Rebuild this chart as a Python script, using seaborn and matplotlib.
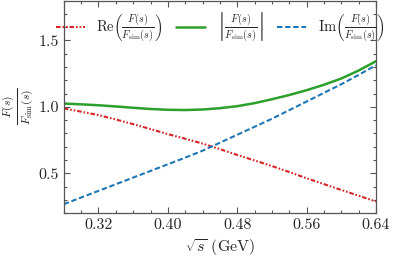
import numpy as np
import pandas as pd
import seaborn as sns
import matplotlib.pyplot as plt

# sqrt(s) in GeV
sqrt_s = [0.28, 0.30, 0.32, 0.34, 0.36, 0.38, 0.40, 0.42, 0.44, 0.46,
          0.48, 0.50, 0.52, 0.54, 0.56, 0.58, 0.60, 0.62, 0.64]
re_ratio = [0.988, 0.964, 0.938, 0.905, 0.870, 0.833, 0.795, 0.760, 0.724, 0.682,
            0.638, 0.597, 0.555, 0.510, 0.463, 0.419, 0.375, 0.332, 0.288]
abs_ratio = [1.025, 1.019, 1.012, 1.003, 0.993, 0.984, 0.978, 0.976, 0.980, 0.990,
             1.005, 1.028, 1.057, 1.089, 1.125, 1.166, 1.213, 1.273, 1.343]
im_ratio = [0.268, 0.318, 0.368, 0.418, 0.468, 0.518, 0.568, 0.618, 0.670, 0.730,
            0.790, 0.850, 0.910, 0.975, 1.040, 1.105, 1.170, 1.240, 1.313]

frac = r"\frac{F(s)}{F_{\mathrm{sim}}(s)}"
labels = [
    r"$\mathrm{Re}\left(" + frac + r"\right)$",
    r"$\left|" + frac + r"\right|$",
    r"$\mathrm{Im}\left(" + frac + r"\right)$",
]

sns.set_theme(style="ticks")
plt.rcParams["font.family"] = "serif"
plt.rcParams["font.serif"] = ["cmr10", "DejaVu Serif"]
plt.rcParams["mathtext.fontset"] = "cm"
plt.rcParams["axes.formatter.use_mathtext"] = True

fig = plt.figure(figsize=(3.94, 2.6), dpi=100)
ax = fig.add_axes([0.162, 0.18, 0.792, 0.818])

df = pd.DataFrame({"x": sqrt_s, "re": re_ratio, "abs": abs_ratio, "im": im_ratio})

sns.lineplot(data=df, x="x", y="re", ax=ax, color="#d62728", linewidth=1.5,
             linestyle=(0, (2.2, 0.9, 0.8, 0.9, 0.8, 0.9)), label=labels[0])
sns.lineplot(data=df, x="x", y="abs", ax=ax, color="#2ca02c", linewidth=1.8,
             label=labels[1])
sns.lineplot(data=df, x="x", y="im", ax=ax, color="#1f77b4", linewidth=1.5,
             linestyle=(0, (2.6, 1.3)), label=labels[2])

ax.set_xlim(0.28, 0.64)
ax.set_ylim(0.2, 1.8)
ax.set_xticks([0.32, 0.40, 0.48, 0.56, 0.64])
ax.set_xticklabels(["0.32", "0.40", "0.48", "0.56", "0.64"])
ax.set_xticks(np.arange(0.28, 0.6401, 0.02), minor=True)
ax.set_yticks([0.5, 1.0, 1.5])
ax.set_yticklabels(["0.5", "1.0", "1.5"])
ax.set_yticks(np.arange(0.2, 1.801, 0.1), minor=True)
ax.tick_params(which="both", direction="in", top=True, right=True,
               labelsize=11.5, color="#555555", width=0.8)
ax.tick_params(which="major", length=4)
ax.tick_params(which="minor", length=2.5)
for sp in ax.spines.values():
    sp.set_color("#555555")
    sp.set_linewidth(0.9)

ax.set_xlabel(r"$\sqrt{s}$ (GeV)", fontsize=11.5)
ax.set_ylabel(r"$" + frac + r"$", fontsize=12, labelpad=2)

ax.legend(loc="upper center", ncol=3, frameon=False, fontsize=10.5,
          handlelength=2.0, columnspacing=0.9, handletextpad=0.8,
          bbox_to_anchor=(0.5, 1.0), borderaxespad=0.3)

fig.savefig("out.png", dpi=100)
